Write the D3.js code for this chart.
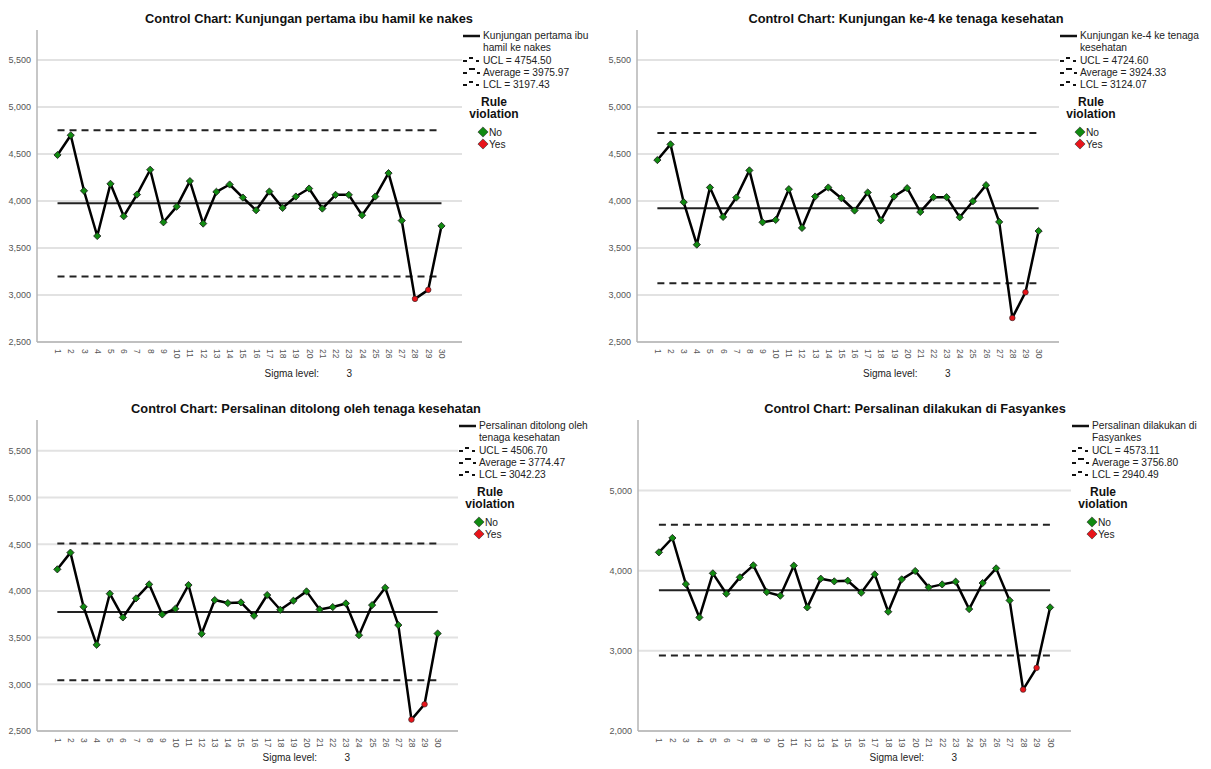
<!DOCTYPE html>
<html><head><meta charset="utf-8">
<script src="https://cdn.jsdelivr.net/npm/d3@7"></script>
<style>
html,body{margin:0;padding:0;background:#fff;}
svg{display:block;font-family:"Liberation Sans",Arial,sans-serif;}
</style></head>
<body>
<svg id="c" width="1211" height="769"></svg>
<script>
// ---------- DATA ----------
const periods = d3.range(1, 31).map(String);
const titles = [
  "Control Chart: Kunjungan pertama ibu hamil ke nakes",
  "Control Chart: Kunjungan ke-4 ke tenaga kesehatan",
  "Control Chart: Persalinan ditolong oleh tenaga kesehatan",
  "Control Chart: Persalinan dilakukan di Fasyankes"
];
const seriesNames = [
  ["Kunjungan pertama ibu", "hamil ke nakes"],
  ["Kunjungan ke-4 ke tenaga", "kesehatan"],
  ["Persalinan ditolong oleh", "tenaga kesehatan"],
  ["Persalinan dilakukan di", "Fasyankes"]
];
const ucl = [4754.50, 4724.60, 4506.70, 4573.11];
const average = [3975.97, 3924.33, 3774.47, 3756.80];
const lcl = [3197.43, 3124.07, 3042.23, 2940.49];
const kunjunganPertama = [4490,4700,4109,3628,4183,3838,4069,4333,3774,3941,4212,3760,4098,4176,4037,3902,4101,3927,4048,4133,3920,4066,4066,3849,4048,4297,3792,2959,3055,3735];
const kunjunganKe4 = [4436,4603,3988,3536,4144,3831,4037,4326,3774,3799,4126,3714,4048,4144,4030,3899,4091,3795,4048,4137,3884,4041,4041,3827,3998,4169,3778,2756,3030,3681];
const persalinanDitolong = [4231,4410,3830,3423,3970,3716,3920,4070,3748,3809,4063,3541,3902,3870,3877,3734,3956,3798,3895,3995,3802,3827,3866,3526,3848,4034,3634,2622,2786,3544];
const persalinanFasyankes = [4229,4408,3833,3417,3967,3713,3917,4067,3733,3688,4063,3542,3900,3867,3875,3725,3954,3488,3892,3996,3792,3829,3863,3521,3846,4029,3629,2517,2788,3542];
const seriesValues = [kunjunganPertama, kunjunganKe4, persalinanDitolong, persalinanFasyankes];
const violationPeriods = [[28,29],[28,29],[28,29],[28,29]];
const yTicks = [[2500,3000,3500,4000,4500,5000,5500],[2500,3000,3500,4000,4500,5000,5500],[2500,3000,3500,4000,4500,5000,5500],[2000,3000,4000,5000]];
const yDomains = [[2500,5820],[2500,5820],[2500,5830],[2000,5880]];
const sigmaLevel = "3";
const ruleLabels = ["No","Yes"];

// ---------- LAYOUT ----------
const layout = [
  {left:37, right:462, top:30, bottom:342, oy:0, titleX:309, sigmaY:377},
  {left:637, right:1059, top:30, bottom:342, oy:0, titleX:906, sigmaY:377},
  {left:37, right:458, top:420, bottom:731, oy:390, titleX:306, sigmaY:761},
  {left:638, right:1071, top:420, bottom:731, oy:390, titleX:915, sigmaY:761}
];
const GREEN = "#118a11", RED = "#e8141a";

const svg = d3.select("#c");
const sq = d3.symbol().type(d3.symbolSquare);

layout.forEach((L, i) => {
  const g = svg.append("g");
  const x = d3.scalePoint().domain(periods).range([L.left, L.right]).padding(1.55);
  const y = d3.scaleLinear().domain(yDomains[i]).range([L.bottom, L.top]);

  // gridlines
  g.append("g").selectAll("line").data(yTicks[i]).join("line")
    .attr("x1", L.left).attr("x2", L.right)
    .attr("y1", d => y(d)).attr("y2", d => y(d))
    .attr("stroke", "#e2e2e2").attr("stroke-width", 2);

  // y axis
  const ya = g.append("g").attr("transform", `translate(${L.left},0)`)
    .call(d3.axisLeft(y).tickValues(yTicks[i]).tickFormat(d3.format(",")).tickSize(0).tickPadding(6));
  ya.select(".domain").remove();
  ya.selectAll("text").attr("fill", "#555").style("font-size", "9px");
  g.append("line").attr("x1", L.left).attr("x2", L.left).attr("y1", L.top).attr("y2", L.bottom)
    .attr("stroke", "#b4b4b4").attr("stroke-width", 1.5);

  // x axis
  const xa = g.append("g").attr("transform", `translate(0,${L.bottom})`)
    .call(d3.axisBottom(x).tickSize(0).tickPadding(0));
  xa.select(".domain").remove();
  xa.selectAll("text").attr("fill", "#555").style("font-size", "8.5px")
    .attr("text-anchor", "start").attr("dy", null).attr("y", 0)
    .attr("transform", "translate(-3,7) rotate(90)");
  g.append("line").attr("x1", L.left).attr("x2", L.right).attr("y1", L.bottom).attr("y2", L.bottom)
    .attr("stroke", "#b4b4b4").attr("stroke-width", 1.5);

  const x0 = x(periods[0]), x1 = x(periods[periods.length - 1]);
  // control lines
  [ucl[i], lcl[i]].forEach(v => {
    g.append("line").attr("x1", x0).attr("x2", x1).attr("y1", y(v)).attr("y2", y(v))
      .attr("stroke", "#222").attr("stroke-width", 2).attr("stroke-dasharray", "7,5");
  });
  g.append("line").attr("x1", x0).attr("x2", x1).attr("y1", y(average[i])).attr("y2", y(average[i]))
    .attr("stroke", "#222").attr("stroke-width", 2);

  // series
  const pts = seriesValues[i].map((v, k) => ({p: periods[k], v, bad: violationPeriods[i].includes(k + 1)}));
  g.append("path").datum(pts)
    .attr("d", d3.line().x(d => x(d.p)).y(d => y(d.v)))
    .attr("fill", "none").attr("stroke", "#000").attr("stroke-width", 2.5).attr("stroke-linejoin", "round");
  g.append("g").selectAll("path").data(pts.filter(d => !d.bad)).join("path")
    .attr("d", sq.size(26)())
    .attr("transform", d => `translate(${x(d.p)},${y(d.v)}) rotate(45)`)
    .attr("fill", GREEN).attr("stroke", "#1a1a1a").attr("stroke-width", 0.8);
  g.append("g").selectAll("circle").data(pts.filter(d => d.bad)).join("circle")
    .attr("cx", d => x(d.p)).attr("cy", d => y(d.v)).attr("r", 2.8)
    .attr("fill", RED).attr("stroke", "#222").attr("stroke-width", 0.6);

  // title
  g.append("text").attr("x", L.titleX).attr("y", L.oy + 23).attr("text-anchor", "middle")
    .style("font-size", "12.8px").style("font-weight", "bold").attr("fill", "#111").text(titles[i]);

  // sigma level
  const cx = (L.left + L.right) / 2;
  g.append("text").attr("x", cx + 15).attr("y", L.sigmaY).style("font-size", "10px").attr("fill", "#222").text("Sigma level:");
  g.append("text").attr("x", cx + 97).attr("y", L.sigmaY).style("font-size", "10px").attr("fill", "#222").text(sigmaLevel);

  // legend
  const lx = L.right + 1, tx = L.right + 21, oy = L.oy;
  const lg = g.append("g").style("font-size", "10.2px").attr("fill", "#222");
  lg.append("line").attr("x1", lx).attr("x2", lx + 17).attr("y1", oy + 36).attr("y2", oy + 36)
    .attr("stroke", "#111").attr("stroke-width", 2.5);
  seriesNames[i].forEach((t, k) => lg.append("text").attr("x", tx).attr("y", oy + 39 + 12 * k).text(t));
  const ctrl = [["UCL = " + ucl[i].toFixed(2), 0], ["Average = " + average[i].toFixed(2), 1], ["LCL = " + lcl[i].toFixed(2), 0]];
  ctrl.forEach(([t, kind], k) => {
    const yy = oy + 60 + 12 * k;
    const segs = kind === 0 ? [[0,4,1],[6,10,-2],[13,16,1]] : [[0,4,1],[6,12,-3],[14,17,1]];
    segs.forEach(s => lg.append("line").attr("x1", lx + s[0]).attr("x2", lx + s[1])
      .attr("y1", yy + s[2]).attr("y2", yy + s[2]).attr("stroke", "#111").attr("stroke-width", 2));
    lg.append("text").attr("x", tx).attr("y", yy + 3.5).text(t);
  });
  lg.append("text").attr("x", L.right + 32).attr("y", oy + 106).attr("text-anchor", "middle")
    .style("font-size", "12px").style("font-weight", "bold").attr("fill", "#111").text("Rule");
  lg.append("text").attr("x", L.right + 32).attr("y", oy + 118).attr("text-anchor", "middle")
    .style("font-size", "12px").style("font-weight", "bold").attr("fill", "#111").text("violation");
  ruleLabels.forEach((t, k) => {
    const yy = oy + 132 + 12 * k;
    lg.append("path").attr("d", sq.size(52)()).attr("transform", `translate(${L.right + 21},${yy}) rotate(45)`)
      .attr("fill", k === 0 ? GREEN : RED).attr("stroke", "#333").attr("stroke-width", 0.6);
    lg.append("text").attr("x", L.right + 27).attr("y", yy + 3.5).text(t);
  });
});
</script>
</body></html>
